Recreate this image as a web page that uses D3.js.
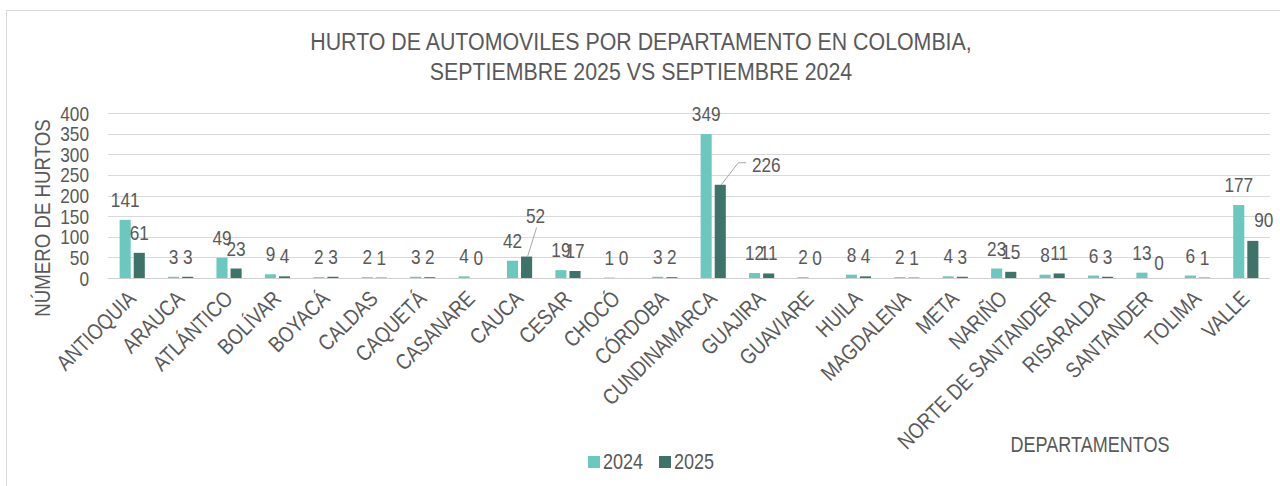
<!DOCTYPE html>
<html>
<head>
<meta charset="utf-8">
<script src="https://cdn.jsdelivr.net/npm/d3@7"></script>
<style>
  body { margin: 0; background: #fff; }
  svg text { font-family: "Liberation Sans", Arial, sans-serif; fill: #595959; }
</style>
</head>
<body>
<svg></svg>
<script>
// data
var departamentos = ["ANTIOQUIA", "ARAUCA", "ATLÁNTICO", "BOLÍVAR", "BOYACÁ", "CALDAS", "CAQUETÁ", "CASANARE",
  "CAUCA", "CESAR", "CHOCÓ", "CÓRDOBA", "CUNDINAMARCA", "GUAJIRA", "GUAVIARE", "HUILA", "MAGDALENA", "META",
  "NARIÑO", "NORTE DE SANTANDER", "RISARALDA", "SANTANDER", "TOLIMA", "VALLE"];
var hurtos2024 = [141, 3, 49, 9, 2, 2, 3, 4, 42, 19, 1, 3, 349, 12, 2, 8, 2, 4, 23, 8, 6, 13, 6, 177];
var hurtos2025 = [61, 3, 23, 4, 3, 1, 2, 0, 52, 17, 0, 2, 226, 11, 0, 4, 1, 3, 15, 11, 3, 0, 1, 90];
var series = ["2024", "2025"];
var yTicks = [0, 50, 100, 150, 200, 250, 300, 350, 400];

var colors = {"2024": "#6cc8be", "2025": "#3e7369"};

// labels moved by hand, like in the original chart
var labelMoves = {
  "CAUCA|2025": {dx: 9, dy: -21, leader: true},
  "CUNDINAMARCA|2025": {dx: 46, dy: 0, leader: true},
  "VALLE|2025": {dx: 11, dy: -1},
  "SANTANDER|2025": {dx: 3, dy: 5}
};

var width = 1280, height = 486;
var narrow = 0.82; // arial narrow look
var svg = d3.select("svg").attr("width", width).attr("height", height);

// text helper: narrow text by scaling along the baseline
function label(parent, px, py, str, size, anchor, angle, sx) {
  return parent.append("text")
    .attr("transform", "translate(" + px + "," + py + ")" + (angle ? " rotate(" + angle + ")" : "") + " scale(" + (sx || narrow) + ",1)")
    .attr("text-anchor", anchor || "start")
    .style("font-size", size + "px")
    .text(str);
}

// frame
svg.append("rect")
  .attr("x", 6.5).attr("y", 10.5)
  .attr("width", 1300).attr("height", 500)
  .attr("fill", "none")
  .attr("stroke", "#d9d9d9");

var plotLeft = 108, plotRight = 1270, plotTop = 113, plotBottom = 278;

var x = d3.scaleBand().domain(departamentos).range([plotLeft, plotRight]).paddingInner(0.48).paddingOuter(0.24);
var xs = d3.scaleBand().domain(series).range([0, x.bandwidth()]).paddingInner(0.214);
var y = d3.scaleLinear().domain([0, 400]).range([plotBottom, plotTop]);

// gridlines
svg.append("g")
  .selectAll("line")
  .data(yTicks)
  .enter().append("line")
  .attr("x1", plotLeft).attr("x2", plotRight)
  .attr("y1", d => Math.round(y(d)) + 0.5).attr("y2", d => Math.round(y(d)) + 0.5)
  .attr("stroke", "#d9d9d9")
  .attr("stroke-width", 1);

// y tick labels
var yAxis = svg.append("g");
yTicks.forEach(function(t) {
  label(yAxis, 89, y(t) + 7.5, t, 21, "end");
});

// rows
var rows = departamentos.map(function(d, i) {
  return {dep: d, values: [{s: "2024", v: hurtos2024[i]}, {s: "2025", v: hurtos2025[i]}]};
});

var groups = svg.append("g")
  .selectAll("g")
  .data(rows)
  .enter().append("g")
  .attr("transform", d => "translate(" + x(d.dep) + ",0)");

groups.selectAll("rect")
  .data(d => d.values)
  .enter().append("rect")
  .attr("x", d => xs(d.s))
  .attr("width", xs.bandwidth())
  .attr("y", d => y(d.v))
  .attr("height", d => y(0) - y(d.v))
  .attr("fill", d => colors[d.s]);

// baseline
svg.append("line")
  .attr("x1", plotLeft).attr("x2", plotRight)
  .attr("y1", Math.round(y(0)) + 0.5).attr("y2", Math.round(y(0)) + 0.5)
  .attr("stroke", "#d0d0d0");

// data labels
groups.each(function(row) {
  var g = d3.select(this);
  row.values.forEach(function(d) {
    var m = labelMoves[row.dep + "|" + d.s] || {dx: 0, dy: 0};
    var cx = xs(d.s) + xs.bandwidth() / 2;
    var by = y(d.v) - 13 + (m.dy || 0);
    if (m.leader) {
      if (row.dep === "CUNDINAMARCA") {
        g.append("polyline")
          .attr("points", [[cx + 1, y(d.v)], [cx + 18, y(d.v) - 22], [cx + 26, y(d.v) - 22]].join(" "))
          .attr("fill", "none").attr("stroke", "#a6a6a6");
      } else {
        g.append("line")
          .attr("x1", cx + 1).attr("y1", y(d.v))
          .attr("x2", cx + 10).attr("y2", by + 5)
          .attr("stroke", "#a6a6a6");
      }
    }
    label(g, cx + (m.dx || 0), by, d.v, 21, "middle");
  });
});

// category labels
var cats = svg.append("g");
departamentos.forEach(function(d) {
  label(cats, x(d) + x.bandwidth() / 2 + 5, 300, d, 22, "end", -45, 0.84);
});

// title
label(svg, 641, 50, "HURTO DE AUTOMOVILES POR DEPARTAMENTO EN COLOMBIA,", 24, "middle", 0, 0.89);
label(svg, 641, 80, "SEPTIEMBRE 2025 VS SEPTIEMBRE 2024", 24, "middle", 0, 0.89);

// axis titles
label(svg, 50, 218, "NÚMERO DE HURTOS", 22, "middle", -90, 0.85);
label(svg, 1090, 452, "DEPARTAMENTOS", 22, "middle");

// legend
var legend = svg.append("g")
  .selectAll("g")
  .data(series)
  .enter().append("g")
  .attr("transform", (d, i) => "translate(" + (588 + i * 71) + "," + 456 + ")");
legend.append("rect")
  .attr("width", 12).attr("height", 12)
  .attr("fill", d => colors[d]);
legend.each(function(d) {
  label(d3.select(this), 15, 13, d, 22, "start");
});
</script>
</body>
</html>
